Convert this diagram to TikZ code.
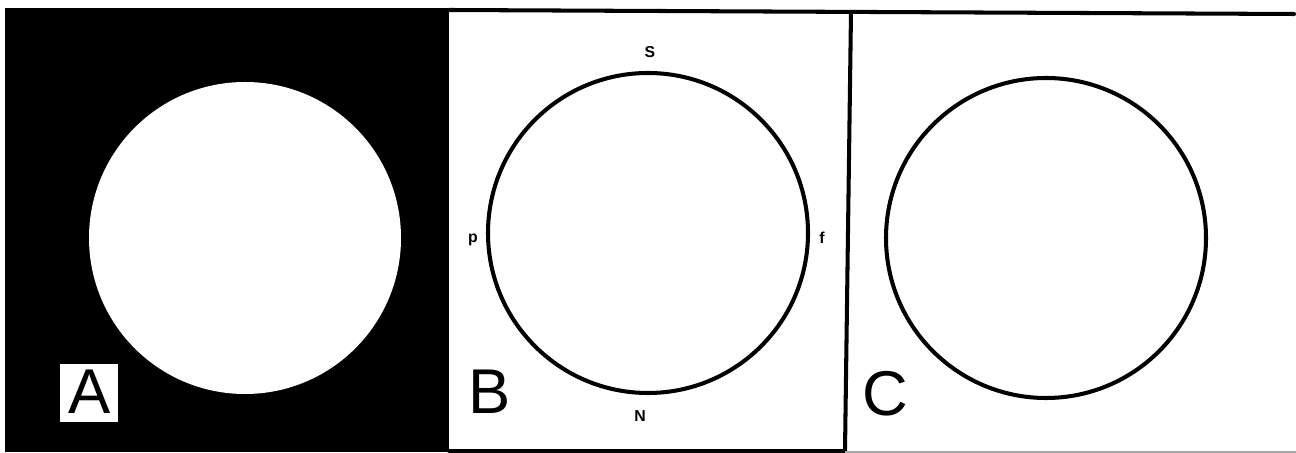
\documentclass[tikz,border=0pt]{standalone}
\usepackage{fontspec}
\setmainfont{Liberation Sans}
\begin{document}
\begin{tikzpicture}[x=0.2mm, y=-0.2mm,
  frame/.style={line width=2.3pt, line cap=round},
  disc/.style={line width=2.3pt},
  panel/.style={font=\fontsize{36}{36}\selectfont, inner sep=0pt},
  pole/.style={font=\fontsize{9}{9}\selectfont\bfseries, inner sep=0pt}]
\useasboundingbox (0,0) rectangle (1296,453);
% panel A
\fill[black] (5,8) rectangle (449,452);
\fill[white] (245,238) circle[radius=156];
\fill[white] (60,364) rectangle (118,422);
\node[panel] (la) at (90,392) {A};
% panel B
\draw[frame] (449,10) -- (1294,14);
\draw[frame] (851,12) -- (845,451);
\draw[frame] (449,451) -- (845,451);
\draw[line width=1pt, black!35] (845,452) -- (1296,452);
\draw[disc] (648,233) circle[radius=160];
\node[panel] (lb) at (490,392) {B};
\node[pole] (s) at (650,52) {S};
\node[pole] (n) at (640,416) {N};
\node[pole] (p) at (473,240) {p};
\node[pole] (f) at (822,238) {f};
% panel C
\draw[disc] (1046,238) circle[radius=160];
\node[panel] (lc) at (885,394) {C};
\end{tikzpicture}
\end{document}
